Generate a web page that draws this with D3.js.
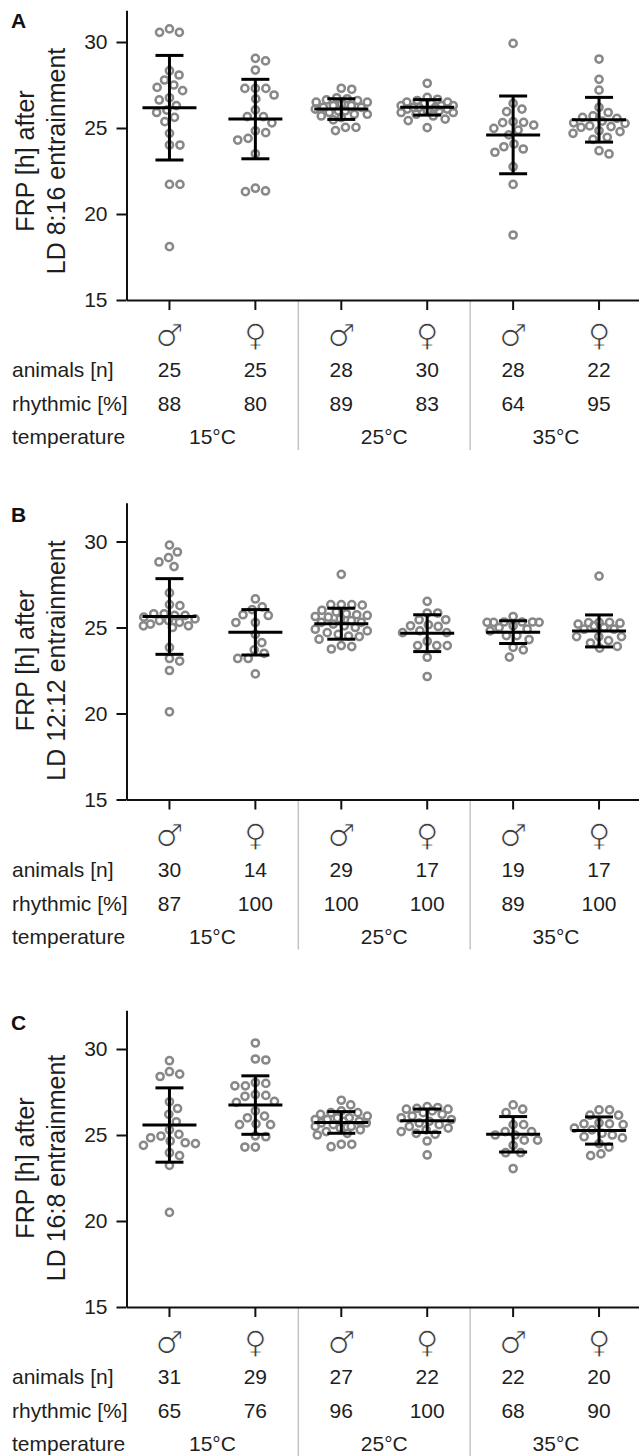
<!DOCTYPE html>
<html><head><meta charset="utf-8">
<script src="https://cdn.jsdelivr.net/npm/d3@7"></script>
<style>body{margin:0;background:#fff;} svg{display:block;}</style>
</head><body><svg id="c" width="639" height="1456"></svg>
<script>
// ---------- data ----------
const sexes = ["\u2642\uFE0E","\u2640\uFE0E","\u2642\uFE0E","\u2640\uFE0E","\u2642\uFE0E","\u2640\uFE0E"];
const temperatures = ["15°C","25°C","35°C"];
const yTicks = [15,20,25,30];
const rowLabels = ["animals [n]","rhythmic [%]","temperature"];
const panelLetters = ["A","B","C"];
const yTitles = ["LD 8:16 entrainment","LD 12:12 entrainment","LD 16:8 entrainment"];

const animalsA = [25,25,28,30,28,22], rhythmicA = [88,80,89,83,64,95];
const animalsB = [30,14,29,17,19,17], rhythmicB = [87,100,100,100,89,100];
const animalsC = [31,29,27,22,22,20], rhythmicC = [65,76,96,100,68,90];

const meanA = [26.18,25.52,26.1,26.2,24.6,25.48], sdA = [3.04,2.31,0.6,0.45,2.26,1.3];
const meanB = [25.64,24.72,25.22,24.67,24.73,24.8], sdB = [2.2,1.32,0.9,1.07,0.66,0.93];
const meanC = [25.58,26.74,25.73,25.83,25.04,25.26], sdC = [2.16,1.7,0.63,0.68,1.03,0.79];

const frpA = [
  [30.56,30.56,30.76,28.08,28.33,27.79,27.36,27.5,27.17,26.76,26.63,26.04,25.62,25.37,24.69,24.01,24.01,21.72,21.72,18.1,26.3,25.9],
  [28.9,29.05,28.37,27.3,27.3,27.3,26.92,26.69,26.05,25.66,25.66,24.73,24.84,24.3,24.4,23.5,21.5,21.3,21.34,25.3],
  [27.31,27.25,26.63,26.76,25.47,25.04,24.85,25.04,26.7,26.6,26.5,26.5,26.4,26.3,26.3,26.2,26.2,26.1,26.0,26.0,25.9,25.8,25.8,25.7,25.6],
  [27.6,26.78,26.67,25.52,25.43,25.02,26.6,26.5,26.5,26.4,26.4,26.3,26.3,26.3,26.2,26.2,26.2,26.1,26.1,26.0,26.0,25.9,25.9,25.8,25.7],
  [29.92,26.43,26.1,25.95,25.37,25.31,25.33,25.17,24.98,24.88,24.07,23.91,23.78,23.59,22.75,21.72,18.78,24.6],
  [29.01,27.83,27.2,26.2,25.62,25.56,25.27,25.08,25.04,25.12,24.84,24.79,24.69,24.46,24.34,23.49,23.68,25.9,25.7,25.4,25.3]
];
const frpB = [
  [29.79,29.39,29.06,28.81,28.54,27.01,26.33,26.27,23.84,23.2,23.05,22.5,20.1,25.8,25.8,25.7,25.7,25.6,25.5,25.4,25.4,25.3,25.2,25.1,25.1,25.0],
  [26.66,26.04,26.2,25.7,25.29,25.29,25.74,24.12,23.7,23.5,23.2,23.2,22.3,24.6],
  [28.09,26.33,26.3,26.33,26.33,25.64,25.74,24.47,24.32,23.95,23.75,23.89,26.0,25.9,25.8,25.7,25.6,25.5,25.4,25.3,25.3,25.2,25.1,25.0,24.9,24.8,24.7,24.6,24.5],
  [26.52,25.84,25.84,25.45,25.45,25.16,25.06,25.1,24.8,24.7,24.7,24.2,23.95,23.95,23.95,23.27,22.15],
  [25.64,25.3,25.3,25.32,25.32,25.3,25.32,24.53,24.53,23.85,23.7,23.28,25.1,25.0,24.9,24.8,24.3],
  [27.99,25.3,25.25,25.3,25.28,25.1,25.2,24.9,24.47,24.47,24.47,24.24,24.1,23.8,23.9,25.0,24.9]
];
const frpC = [
  [29.32,28.54,28.4,28.68,26.93,26.54,25.77,25.04,24.94,24.5,24.65,24.4,24.55,24.84,23.97,23.8,23.23,20.5,26.2,25.3],
  [30.35,29.36,29.42,27.86,28.05,28.0,27.86,27.3,27.35,27.25,26.9,26.95,26.4,26.1,26.0,25.6,25.65,25.6,24.95,24.9,24.3,24.3],
  [27.02,26.75,26.3,26.3,24.46,24.32,24.46,26.4,26.2,26.1,26.0,26.0,25.9,25.9,25.8,25.8,25.7,25.7,25.6,25.5,25.5,25.4,25.3,25.2,25.1,25.0],
  [26.65,26.6,26.55,26.5,26.5,26.4,26.3,26.2,26.1,26.0,25.9,25.8,25.7,25.6,25.5,25.4,25.3,25.2,25.1,25.04,24.65,23.84],
  [26.75,26.3,26.5,25.6,25.6,25.0,25.0,25.2,25.2,24.7,24.7,24.4,23.97,23.97,23.05],
  [26.46,26.46,26.15,26.15,25.65,25.65,25.7,25.6,25.4,25.3,25.1,25.0,24.83,24.9,24.5,24.3,23.8,23.9]
];

// ---------- layout ----------
const panels = [
  {frp: frpA, mean: meanA, sd: sdA, animals: animalsA, rhythmic: rhythmicA, bottom: 300, topVal: 31.85, letterY: 28},
  {frp: frpB, mean: meanB, sd: sdB, animals: animalsB, rhythmic: rhythmicB, bottom: 799.5, topVal: 32.25, letterY: 522},
  {frp: frpC, mean: meanC, sd: sdC, animals: animalsC, rhythmic: rhythmicC, bottom: 1307, topVal: 32.25, letterY: 1030}
];
const pxPerUnit = 17.2;
const axisX = 126.5;
const font = "'Liberation Sans', Arial, Helvetica, sans-serif";
const txt = "#1e1e1e";
const dotColor = "#888";

const svg = d3.select("#c");
const x = d3.scaleBand().domain(d3.range(6)).range([axisX, 642]);
const xc = i => x(i) + x.bandwidth() / 2;

function swarm(values, yScale, d, maxW) {
  const pts = values.map(v => ({v, y: yScale(v)})).sort((a, b) => a.y - b.y);
  const placed = [];
  for (const p of pts) {
    const near = placed.filter(q => Math.abs(q.y - p.y) < d);
    const cands = [0];
    for (const q of near) {
      const dx = Math.sqrt(d * d - (q.y - p.y) ** 2);
      cands.push(q.x + dx, q.x - dx);
    }
    const ok = cands.filter(c => Math.abs(c) <= maxW).sort((a, b) => Math.abs(a) - Math.abs(b));
    let chosen = null;
    for (const c of ok) {
      if (near.every(q => (q.x - c) ** 2 + (q.y - p.y) ** 2 >= d * d - 0.01)) { chosen = c; break; }
    }
    if (chosen === null) {
      let best = -1;
      for (let c = -maxW; c <= maxW; c += 1) {
        const md = d3.min(near, q => (q.x - c) ** 2 + (q.y - p.y) ** 2);
        if (md > best + 0.5 || (Math.abs(md - best) <= 0.5 && Math.abs(c) < Math.abs(chosen))) { best = md; chosen = c; }
      }
    }
    p.x = chosen;
    placed.push(p);
  }
  return placed;
}

panels.forEach((P, pi) => {
  const y = d3.scaleLinear().domain([15, P.topVal])
    .range([P.bottom, P.bottom - pxPerUnit * (P.topVal - 15)]);
  const g = svg.append("g");

  // panel letter
  g.append("text").attr("x", 11).attr("y", P.letterY).text(panelLetters[pi])
    .attr("font-family", font).attr("font-weight", "bold").attr("font-size", 21).attr("fill", "#111");

  // y title
  const yc = P.bottom - 139;
  g.append("text").attr("transform", `translate(34,${yc}) rotate(-90)`).attr("text-anchor", "middle")
    .attr("font-family", font).attr("font-size", 25).attr("fill", txt).text("FRP [h] after");
  g.append("text").attr("transform", `translate(65,${yc}) rotate(-90)`).attr("text-anchor", "middle")
    .attr("font-family", font).attr("font-size", 25).attr("fill", txt).text(yTitles[pi]);

  // separators
  [1, 2].forEach(j => {
    const sx = (xc(2 * j - 1) + xc(2 * j)) / 2;
    g.append("line").attr("x1", sx).attr("x2", sx).attr("y1", P.bottom).attr("y2", P.bottom + 150)
      .attr("stroke", "#c4c4c4").attr("stroke-width", 1.5);
  });

  // dots
  P.frp.forEach((vals, i) => {
    const pts = swarm(vals, y, 10.5, 26);
    g.append("g").selectAll("circle").data(pts).join("circle")
      .attr("cx", d => xc(i) + d.x).attr("cy", d => d.y).attr("r", 3.6)
      .attr("fill", "none").attr("stroke", dotColor).attr("stroke-width", 2.5);
  });

  // error bars
  P.mean.forEach((m, i) => {
    const c = xc(i), s = P.sd[i];
    const eb = g.append("g").attr("stroke", "#000").attr("stroke-width", 3);
    eb.append("line").attr("x1", c - 27).attr("x2", c + 27).attr("y1", y(m)).attr("y2", y(m));
    eb.append("line").attr("x1", c).attr("x2", c).attr("y1", y(m + s)).attr("y2", y(m - s));
    eb.append("line").attr("x1", c - 14).attr("x2", c + 14).attr("y1", y(m + s)).attr("y2", y(m + s));
    eb.append("line").attr("x1", c - 14).attr("x2", c + 14).attr("y1", y(m - s)).attr("y2", y(m - s));
  });

  // axes
  const ya = g.append("g").attr("transform", `translate(${axisX},0)`)
    .call(d3.axisLeft(y).tickValues(yTicks).tickSize(10).tickSizeOuter(0).tickPadding(9).tickFormat(d3.format("d")));
  ya.select(".domain").attr("stroke", "#111").attr("stroke-width", 2);
  ya.selectAll(".tick line").attr("stroke", "#111").attr("stroke-width", 2);
  ya.selectAll(".tick text").attr("font-family", font).attr("font-size", 21).attr("fill", txt);

  const xa = g.append("g").attr("transform", `translate(0,${P.bottom})`)
    .call(d3.axisBottom(x).tickSize(10).tickSizeOuter(0).tickFormat(() => ""));
  xa.select(".domain").attr("stroke", "#111").attr("stroke-width", 2);
  xa.selectAll(".tick line").attr("stroke", "#111").attr("stroke-width", 2);

  // table
  const rowY = [P.bottom + 77, P.bottom + 111, P.bottom + 144];
  rowLabels.forEach((lab, r) => {
    g.append("text").attr("x", 12).attr("y", rowY[r]).text(lab)
      .attr("font-family", font).attr("font-size", 21).attr("fill", txt);
  });
  sexes.forEach((s, i) => {
    g.append("text").attr("x", xc(i)).attr("y", P.bottom + 46).attr("text-anchor", "middle").text(s)
      .attr("font-family", "'DejaVu Sans', sans-serif").attr("font-size", 31).attr("fill", "#3a3a3a")
      .attr("stroke", "#fff").attr("stroke-width", 0.9);
    g.append("text").attr("x", xc(i)).attr("y", rowY[0]).attr("text-anchor", "middle").text(P.animals[i])
      .attr("font-family", font).attr("font-size", 21).attr("fill", txt);
    g.append("text").attr("x", xc(i)).attr("y", rowY[1]).attr("text-anchor", "middle").text(P.rhythmic[i])
      .attr("font-family", font).attr("font-size", 21).attr("fill", txt);
  });
  temperatures.forEach((t, j) => {
    g.append("text").attr("x", (xc(2 * j) + xc(2 * j + 1)) / 2).attr("y", rowY[2]).attr("text-anchor", "middle").text(t)
      .attr("font-family", font).attr("font-size", 21).attr("fill", txt);
  });
});
</script>
</body></html>
